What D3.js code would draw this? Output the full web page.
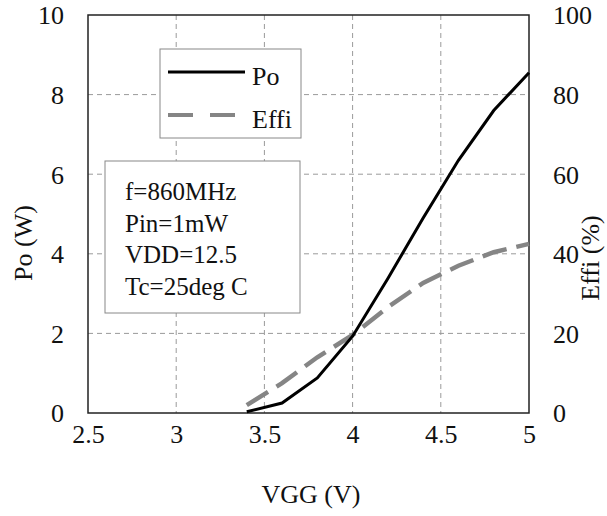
<!DOCTYPE html>
<html><head><meta charset="utf-8">
<script src="https://cdn.jsdelivr.net/npm/d3@7"></script>
<style>
html,body{margin:0;padding:0;background:#fff;}
svg{display:block;}
svg text{font-family:"Liberation Serif","Times New Roman",serif;}
</style></head>
<body>
<svg id="c" width="607" height="516"></svg>
<script>
const vgg = [3.4, 3.6, 3.8, 4.0, 4.2, 4.4, 4.6, 4.8, 5.0];
const po = [0.03, 0.25, 0.88, 1.93, 3.38, 4.9, 6.35, 7.6, 8.55];
const effi = [2, 7.5, 14, 19.6, 26.6, 32.7, 37, 40.4, 42.5];
const xTicks = [2.5, 3, 3.5, 4, 4.5, 5];
const yTicks = [0, 2, 4, 6, 8, 10];
const y2Ticks = [0, 20, 40, 60, 80, 100];
const notes = ["f=860MHz", "Pin=1mW", "VDD=12.5", "Tc=25deg C"];
const legendNames = ["Po", "Effi"];

const svg = d3.select("#c");
const L = 88, R = 529, T = 15, B = 413;
const x = d3.scaleLinear().domain([2.5, 5]).range([L, R]);
const y = d3.scaleLinear().domain([0, 10]).range([B, T]);
const y2 = d3.scaleLinear().domain([0, 100]).range([B, T]);
const fs = 26;

// grid
const g = svg.append("g");
g.selectAll(".vg").data(xTicks.slice(1, -1)).enter().append("line")
  .attr("x1", d => x(d)).attr("x2", d => x(d)).attr("y1", T).attr("y2", B)
  .attr("stroke", "#9a9a9a").attr("stroke-width", 1).attr("stroke-dasharray", "5,4");
g.selectAll(".hg").data(yTicks.slice(1, -1)).enter().append("line")
  .attr("y1", d => y(d)).attr("y2", d => y(d)).attr("x1", L).attr("x2", R)
  .attr("stroke", "#9a9a9a").attr("stroke-width", 1).attr("stroke-dasharray", "5,4");

// frame
svg.append("rect").attr("x", L).attr("y", T).attr("width", R - L).attr("height", B - T)
  .attr("fill", "none").attr("stroke", "#222").attr("stroke-width", 1.5);

// axes (labels only)
const ax = svg.append("g").attr("transform", `translate(0,${B})`)
  .call(d3.axisBottom(x).tickValues(xTicks).tickSize(0).tickPadding(0).tickFormat(d3.format("")));
ax.select(".domain").remove();
ax.selectAll("text").attr("font-size", fs)
  .attr("fill", "#111").attr("dy", null).attr("y", 30);

const ayl = svg.append("g").attr("transform", `translate(${L},0)`)
  .call(d3.axisLeft(y).tickValues(yTicks).tickSize(0).tickPadding(24));
ayl.select(".domain").remove();
ayl.selectAll("text").attr("font-size", fs)
  .attr("fill", "#111").attr("dy", "0.34em");

const ayr = svg.append("g").attr("transform", `translate(${R},0)`)
  .call(d3.axisRight(y2).tickValues(y2Ticks).tickSize(0).tickPadding(24));
ayr.select(".domain").remove();
ayr.selectAll("text").attr("font-size", fs)
  .attr("fill", "#111").attr("dy", "0.34em");

// titles
svg.append("text").attr("x", 311).attr("y", 503).attr("text-anchor", "middle")
  .attr("font-size", fs).attr("fill", "#111").text("VGG (V)");
svg.append("text").attr("transform", "translate(32,243) rotate(-90)").attr("text-anchor", "middle")
  .attr("font-size", fs).attr("fill", "#111").text("Po (W)");
svg.append("text").attr("transform", "translate(599,258) rotate(-90)").attr("text-anchor", "middle")
  .attr("font-size", fs).attr("fill", "#111").text("Effi (%)");

// data lines
const lineE = d3.line().x((d, i) => x(vgg[i])).y(d => y2(d));
svg.append("path").datum(effi).attr("d", lineE).attr("fill", "none")
  .attr("stroke", "#858585").attr("stroke-width", 4.5).attr("stroke-dasharray", "25,10");
const lineP = d3.line().x((d, i) => x(vgg[i])).y(d => y(d));
svg.append("path").datum(po).attr("d", lineP).attr("fill", "none")
  .attr("stroke", "#000").attr("stroke-width", 3);

// legend box
svg.append("rect").attr("x", 160).attr("y", 49).attr("width", 141).attr("height", 89)
  .attr("fill", "#fff").attr("stroke", "#888").attr("stroke-width", 1);
svg.append("line").attr("x1", 168).attr("x2", 245).attr("y1", 72).attr("y2", 72)
  .attr("stroke", "#000").attr("stroke-width", 3);
svg.append("line").attr("x1", 168).attr("x2", 245).attr("y1", 115).attr("y2", 115)
  .attr("stroke", "#858585").attr("stroke-width", 4).attr("stroke-dasharray", "25,17");
svg.selectAll(".lg").data(legendNames).enter().append("text")
  .attr("x", 252).attr("y", (d, i) => 85 + i * 43).attr("font-size", fs).attr("fill", "#111").text(d => d);

// annotation box
svg.append("rect").attr("x", 105).attr("y", 161).attr("width", 195).attr("height", 152)
  .attr("fill", "#fff").attr("stroke", "#888").attr("stroke-width", 1);
svg.selectAll(".nt").data(notes).enter().append("text")
  .attr("x", 125).attr("y", (d, i) => 200 + i * 31.7).attr("font-size", 25).attr("fill", "#111").text(d => d);
</script>
</body></html>
